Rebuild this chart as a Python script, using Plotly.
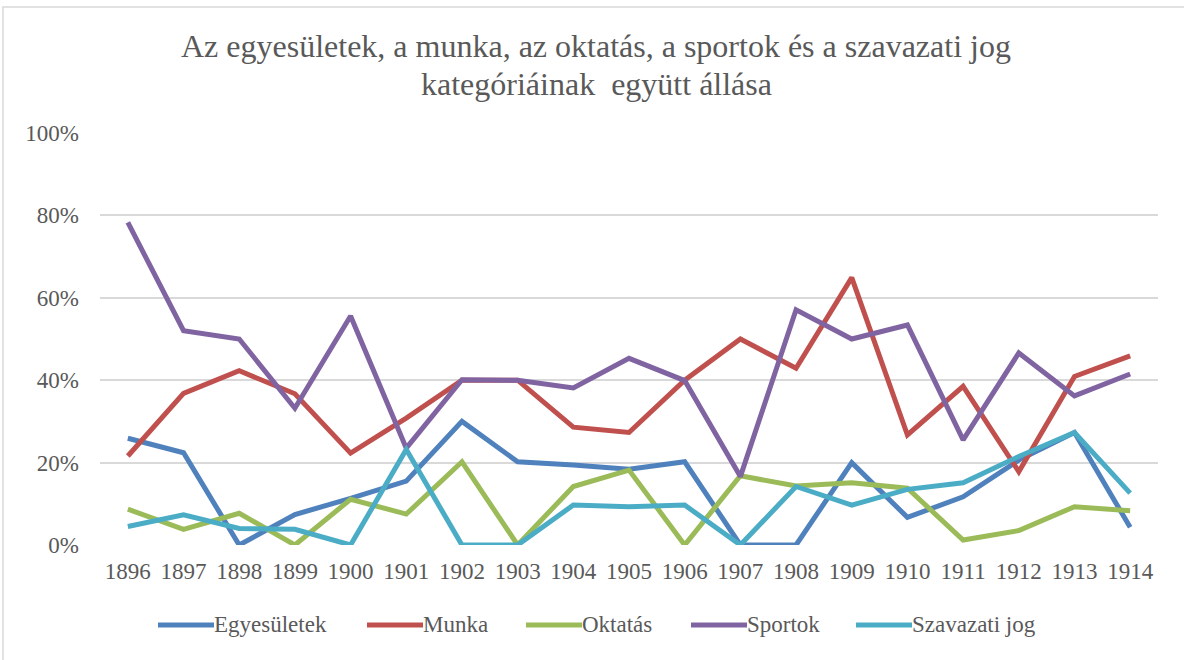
import plotly.graph_objects as go

# Years on the category axis
years = [str(y) for y in range(1896, 1915)]

# Shares per category (percent)
egyesuletek = [25.9, 22.4, 0.0, 7.4, 11.3, 15.5, 30.0, 20.2, 19.4, 18.4, 20.2, 0.0, 0.0, 20.0, 6.7, 11.7, 20.6, 27.3, 4.3]
munka = [21.6, 36.8, 42.3, 36.7, 22.3, 30.8, 40.0, 40.0, 28.6, 27.3, 40.0, 50.0, 42.9, 64.9, 26.7, 38.5, 17.8, 40.9, 45.9]
oktatas = [8.7, 3.8, 7.7, 0.0, 11.1, 7.5, 20.2, 0.0, 14.2, 18.2, 0.0, 16.8, 14.3, 15.1, 13.8, 1.2, 3.5, 9.3, 8.3]
sportok = [78.3, 52.0, 50.0, 33.2, 55.6, 23.5, 40.1, 40.0, 38.1, 45.3, 39.9, 16.6, 57.1, 50.0, 53.4, 25.5, 46.6, 36.2, 41.5]
szavazati_jog = [4.5, 7.3, 4.0, 3.8, 0.0, 23.2, 0.0, 0.0, 9.7, 9.3, 9.7, 0.0, 14.2, 9.7, 13.5, 15.1, 21.5, 27.3, 12.6]

series_names = ["Egyesületek", "Munka", "Oktatás", "Sportok", "Szavazati jog"]
series_values = [egyesuletek, munka, oktatas, sportok, szavazati_jog]
colors = ["#4F81BD", "#C0504D", "#9BBB59", "#8064A2", "#4BACC6"]

W, H = 1184, 660
L, R, T, B = 100, 26, 133, 115
PW, PH = W - L - R, H - T - B
FONT = "Liberation Serif"
TXT = "#595959"
LINE_W = 5


def px_x(x):
    return (x - L) / PW


def px_y(y):
    return (H - B - y) / PH


fig = go.Figure()
for name, vals, col in zip(series_names, series_values, colors):
    fig.add_trace(go.Scatter(
        x=years, y=[v / 100 for v in vals], name=name, mode="lines",
        line=dict(color=col, width=LINE_W), showlegend=False,
    ))

# Legend drawn as line samples with labels underneath the plot
legend_y = 625
legend_x = [158, 367, 526, 691, 856]
sample_len = 56
for x0, name, col in zip(legend_x, series_names, colors):
    fig.add_shape(type="line", xref="paper", yref="paper",
                  x0=px_x(x0), x1=px_x(x0 + sample_len),
                  y0=px_y(legend_y), y1=px_y(legend_y),
                  line=dict(color=col, width=LINE_W))
    fig.add_annotation(xref="paper", yref="paper",
                       x=px_x(x0 + sample_len + 1), y=px_y(legend_y - 1),
                       text=name, showarrow=False, xanchor="left", yanchor="middle",
                       xshift=-3,
                       font=dict(family=FONT, size=23, color=TXT))

# Two-line title
fig.add_annotation(xref="paper", yref="paper", x=px_x(596), y=px_y(45.5),
                   text="Az egyesületek, a munka, az oktatás, a sportok és a szavazati jog",
                   showarrow=False, xanchor="center", yanchor="middle",
                   font=dict(family=FONT, size=32, color=TXT))
fig.add_annotation(xref="paper", yref="paper", x=px_x(596), y=px_y(83.5),
                   text="kategóriáinak  együtt állása",
                   showarrow=False, xanchor="center", yanchor="middle",
                   font=dict(family=FONT, size=32, color=TXT))

# Outer chart border
fig.add_shape(type="rect", xref="paper", yref="paper",
              x0=px_x(3), x1=px_x(W + 20), y0=px_y(H + 20), y1=px_y(7),
              line=dict(color="#D9D9D9", width=1.5), layer="below")

fig.update_layout(
    width=W, height=H,
    margin=dict(l=L, r=R, t=T, b=B),
    paper_bgcolor="white", plot_bgcolor="white",
    font=dict(family=FONT, color=TXT),
    showlegend=False,
    xaxis=dict(
        type="category", range=[-0.5, 18.5], showgrid=False, zeroline=False,
        showline=False, ticks="", ticklabelstandoff=10,
        tickfont=dict(family=FONT, size=23, color=TXT),
    ),
    yaxis=dict(
        range=[0, 1.0], dtick=0.2, tick0=0, tickformat=".0%",
        showgrid=True, gridcolor="#D9D9D9", gridwidth=1.5, zeroline=False,
        showline=False, ticks="", ticklabelstandoff=20,
        tickfont=dict(family=FONT, size=23, color=TXT),
    ),
)

fig.write_html("out.html")
